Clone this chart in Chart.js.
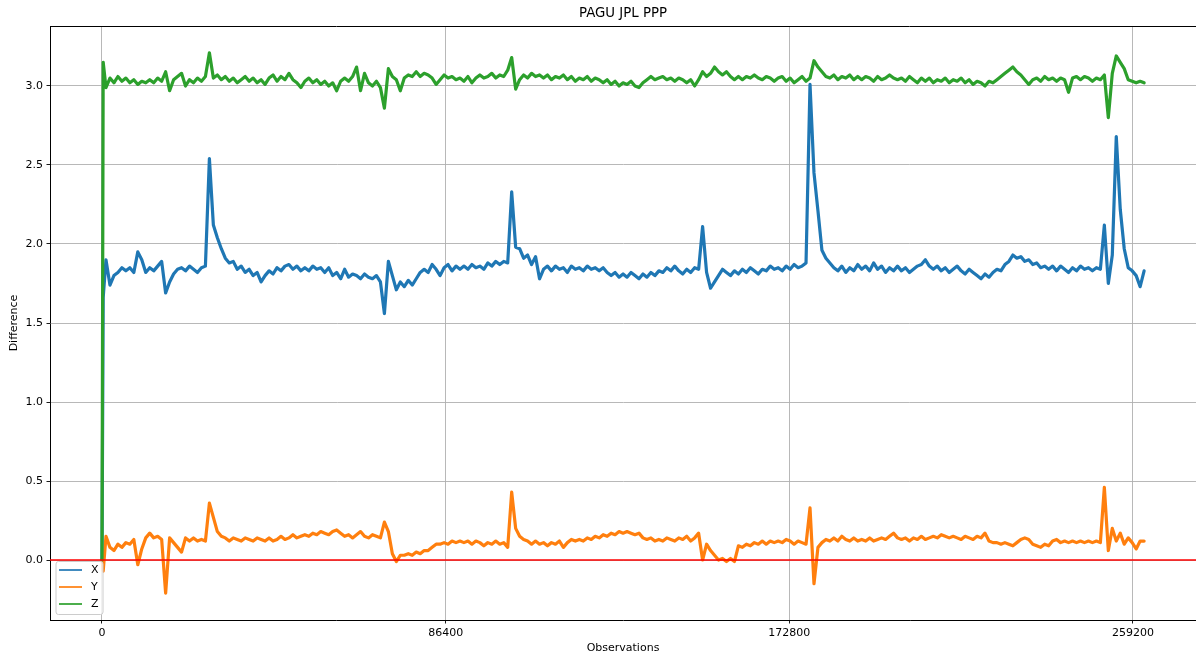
<!DOCTYPE html>
<html>
<head>
<meta charset="utf-8">
<script src="https://cdn.jsdelivr.net/npm/chart.js@4/dist/chart.umd.min.js"></script>
<style>
  html, body { margin: 0; padding: 0; background: #ffffff; }
  #wrap { width: 1196px; height: 658px; }
</style>
</head>
<body>
<div id="wrap"><canvas id="c" width="1196" height="658"></canvas></div>
<script>
// ---- data ----
const titleText = "PAGU JPL PPP";
const xTitle = "Observations";
const yTitle = "Difference";
const seriesNames = ["X", "Y", "Z"];
const xTicks = [0, 86400, 172800, 259200];
const yTicks = [0.0, 0.5, 1.0, 1.5, 2.0, 2.5, 3.0];

// sampling grid of observations (first two samples at the very start, then every 1000)
const obs = [0, 300];
for (let k = 1; k <= 262; k++) obs.push(k * 1000);

const xVals = [0, 1.66,
  1.90, 1.74, 1.80, 1.82, 1.85, 1.83, 1.85, 1.82, 1.95, 1.90,
  1.82, 1.85, 1.83, 1.86, 1.89, 1.69, 1.76, 1.81, 1.84, 1.85,
  1.83, 1.86, 1.84, 1.82, 1.85, 1.86, 2.54, 2.12, 2.04, 1.97,
  1.91, 1.88, 1.89, 1.84, 1.86, 1.82, 1.84, 1.80, 1.82, 1.76,
  1.80, 1.83, 1.81, 1.85, 1.83, 1.86, 1.87, 1.84, 1.86, 1.83,
  1.85, 1.83, 1.86, 1.84, 1.85, 1.82, 1.85, 1.80, 1.82, 1.78,
  1.84, 1.79, 1.81, 1.80, 1.78, 1.81, 1.79, 1.78, 1.80, 1.76,
  1.56, 1.89, 1.80, 1.71, 1.76, 1.73, 1.77, 1.74, 1.78, 1.82,
  1.84, 1.82, 1.87, 1.84, 1.80, 1.85, 1.87, 1.83, 1.86, 1.84,
  1.86, 1.84, 1.87, 1.85, 1.86, 1.84, 1.88, 1.86, 1.89, 1.87,
  1.89, 1.88, 2.33, 1.98, 1.97, 1.91, 1.93, 1.87, 1.92, 1.78,
  1.84, 1.86, 1.83, 1.86, 1.84, 1.85, 1.82, 1.86, 1.84, 1.85,
  1.83, 1.86, 1.84, 1.85, 1.83, 1.85, 1.82, 1.80, 1.82, 1.79,
  1.81, 1.79, 1.82, 1.80, 1.78, 1.81, 1.79, 1.82, 1.80, 1.83,
  1.82, 1.85, 1.83, 1.86, 1.83, 1.81, 1.84, 1.82, 1.85, 1.84,
  2.11, 1.82, 1.72, 1.76, 1.80, 1.84, 1.82, 1.80, 1.83, 1.81,
  1.84, 1.82, 1.85, 1.83, 1.81, 1.84, 1.83, 1.86, 1.84, 1.85,
  1.83, 1.86, 1.84, 1.87, 1.85, 1.86, 1.88, 3.01, 2.45, 2.21,
  1.96, 1.91, 1.88, 1.85, 1.83, 1.86, 1.82, 1.85, 1.83, 1.87,
  1.84, 1.86, 1.83, 1.88, 1.84, 1.86, 1.82, 1.85, 1.83, 1.86,
  1.83, 1.85, 1.82, 1.84, 1.86, 1.87, 1.90, 1.86, 1.84, 1.86,
  1.83, 1.85, 1.82, 1.84, 1.86, 1.83, 1.81, 1.84, 1.82, 1.80,
  1.78, 1.81, 1.79, 1.82, 1.84, 1.83, 1.87, 1.89, 1.93, 1.91,
  1.92, 1.89, 1.90, 1.87, 1.88, 1.85, 1.86, 1.84, 1.86, 1.83,
  1.86, 1.84, 1.82, 1.85, 1.83, 1.86, 1.84, 1.85, 1.83, 1.85,
  1.84, 2.12, 1.75, 1.93, 2.68, 2.22, 1.97, 1.85, 1.83, 1.80,
  1.73, 1.83];

const yVals = [0, -0.07,
  0.15, 0.08, 0.06, 0.10, 0.08, 0.11, 0.10, 0.13, -0.03, 0.07,
  0.14, 0.17, 0.14, 0.15, 0.13, -0.21, 0.14, 0.11, 0.08, 0.05,
  0.14, 0.12, 0.14, 0.12, 0.13, 0.12, 0.36, 0.27, 0.18, 0.15,
  0.14, 0.12, 0.14, 0.13, 0.12, 0.14, 0.13, 0.12, 0.14, 0.13,
  0.12, 0.14, 0.12, 0.13, 0.15, 0.13, 0.14, 0.16, 0.14, 0.15,
  0.16, 0.15, 0.17, 0.16, 0.18, 0.17, 0.16, 0.18, 0.19, 0.17,
  0.15, 0.16, 0.14, 0.16, 0.18, 0.15, 0.14, 0.16, 0.15, 0.14,
  0.24, 0.18, 0.04, -0.01, 0.03, 0.03, 0.04, 0.03, 0.05, 0.04,
  0.06, 0.06, 0.08, 0.10, 0.10, 0.11, 0.10, 0.12, 0.11, 0.12,
  0.11, 0.12, 0.10, 0.12, 0.11, 0.09, 0.11, 0.10, 0.12, 0.10,
  0.11, 0.08, 0.43, 0.20, 0.15, 0.13, 0.12, 0.10, 0.12, 0.10,
  0.11, 0.09, 0.11, 0.10, 0.12, 0.08, 0.11, 0.13, 0.12, 0.13,
  0.12, 0.14, 0.13, 0.15, 0.14, 0.16, 0.15, 0.17, 0.16, 0.18,
  0.17, 0.18, 0.17, 0.16, 0.17, 0.14, 0.13, 0.14, 0.12, 0.13,
  0.12, 0.14, 0.13, 0.12, 0.14, 0.13, 0.15, 0.12, 0.14, 0.17,
  0.00, 0.10, 0.06, 0.03, 0.00, 0.01, -0.01, 0.01, -0.01, 0.09,
  0.08, 0.10, 0.09, 0.11, 0.10, 0.12, 0.10, 0.12, 0.11, 0.12,
  0.11, 0.13, 0.12, 0.10, 0.12, 0.11, 0.10, 0.33, -0.15, 0.08,
  0.11, 0.13, 0.12, 0.14, 0.12, 0.15, 0.13, 0.12, 0.14, 0.12,
  0.13, 0.12, 0.14, 0.12, 0.13, 0.14, 0.13, 0.15, 0.17, 0.14,
  0.13, 0.14, 0.12, 0.14, 0.13, 0.15, 0.13, 0.14, 0.15, 0.14,
  0.16, 0.15, 0.14, 0.15, 0.14, 0.13, 0.15, 0.14, 0.13, 0.15,
  0.14, 0.17, 0.12, 0.11, 0.11, 0.10, 0.11, 0.10, 0.09, 0.11,
  0.13, 0.14, 0.13, 0.10, 0.09, 0.08, 0.10, 0.09, 0.12, 0.13,
  0.11, 0.12, 0.11, 0.12, 0.11, 0.12, 0.11, 0.12, 0.11, 0.12,
  0.11, 0.46, 0.06, 0.20, 0.12, 0.17, 0.10, 0.14, 0.11, 0.07,
  0.12, 0.12];

const zVals = [0, 3.15,
  2.99, 3.05, 3.02, 3.06, 3.03, 3.05, 3.02, 3.04, 3.01, 3.03,
  3.02, 3.04, 3.02, 3.05, 3.03, 3.09, 2.97, 3.04, 3.06, 3.08,
  3.00, 3.04, 3.02, 3.05, 3.03, 3.06, 3.21, 3.05, 3.07, 3.04,
  3.06, 3.03, 3.05, 3.02, 3.04, 3.06, 3.03, 3.05, 3.02, 3.04,
  3.01, 3.05, 3.07, 3.03, 3.06, 3.04, 3.08, 3.04, 3.02, 2.99,
  3.03, 3.05, 3.02, 3.04, 3.01, 3.03, 3.00, 3.02, 2.97, 3.03,
  3.05, 3.03, 3.06, 3.12, 2.97, 3.08, 3.02, 3.00, 3.03, 2.99,
  2.86, 3.11, 3.06, 3.04, 2.97, 3.05, 3.07, 3.06, 3.09, 3.06,
  3.08, 3.07, 3.05, 3.01, 3.04, 3.07, 3.05, 3.06, 3.04, 3.05,
  3.03, 3.06, 3.02, 3.05, 3.07, 3.05, 3.06, 3.08, 3.05, 3.07,
  3.06, 3.10, 3.18, 2.98, 3.04, 3.07, 3.05, 3.08, 3.06, 3.07,
  3.05, 3.07, 3.04, 3.06, 3.05, 3.07, 3.04, 3.06, 3.03, 3.05,
  3.04, 3.06, 3.03, 3.05, 3.04, 3.02, 3.04, 3.01, 3.03, 3.00,
  3.02, 3.01, 3.03, 3.00, 2.99, 3.02, 3.04, 3.06, 3.04, 3.05,
  3.06, 3.04, 3.05, 3.03, 3.05, 3.04, 3.02, 3.04, 3.00, 3.04,
  3.09, 3.06, 3.08, 3.12, 3.09, 3.07, 3.09, 3.06, 3.04, 3.06,
  3.04, 3.06, 3.05, 3.07, 3.05, 3.04, 3.06, 3.05, 3.03, 3.05,
  3.06, 3.03, 3.05, 3.02, 3.04, 3.06, 3.03, 3.05, 3.16, 3.12,
  3.09, 3.06, 3.05, 3.07, 3.04, 3.06, 3.05, 3.07, 3.04, 3.06,
  3.04, 3.06, 3.05, 3.03, 3.06, 3.04, 3.05, 3.07, 3.05, 3.04,
  3.05, 3.03, 3.06, 3.04, 3.02, 3.05, 3.03, 3.05, 3.02, 3.04,
  3.03, 3.05, 3.02, 3.04, 3.03, 3.05, 3.02, 3.04, 3.01, 3.03,
  3.02, 3.00, 3.03, 3.02, 3.04, 3.06, 3.08, 3.10, 3.12, 3.09,
  3.07, 3.04, 3.01, 3.04, 3.05, 3.03, 3.06, 3.04, 3.05, 3.03,
  3.05, 3.04, 2.96, 3.05, 3.06, 3.04, 3.06, 3.05, 3.03, 3.05,
  3.04, 3.07, 2.80, 3.08, 3.19, 3.15, 3.11, 3.04, 3.03, 3.02,
  3.03, 3.02];

const colors = ["#1f77b4", "#ff7f0e", "#2ca02c"];
const zeroLineColor = "#ff0000";

// ---- chart ----
const toPoints = (vals) => obs.map((o, i) => ({ x: o, y: vals[i] }));
const FONT = "DejaVu Sans";
Chart.defaults.font.family = FONT;

const deco = {
  id: "deco",
  afterDatasetsDraw(chart) {
    const { ctx, chartArea: a, scales } = chart;
    const y0 = scales.y.getPixelForValue(0);
    ctx.save();
    // red zero line
    ctx.strokeStyle = zeroLineColor;
    ctx.lineWidth = 1.7;
    ctx.beginPath();
    ctx.moveTo(a.left, y0);
    ctx.lineTo(a.right, y0);
    ctx.stroke();
    // top spine
    ctx.strokeStyle = "#000";
    ctx.lineWidth = 1;
    ctx.beginPath();
    ctx.moveTo(a.left, a.top + 0.5);
    ctx.lineTo(a.right, a.top + 0.5);
    ctx.stroke();
    // legend (lower left, inside axes)
    const bx = a.left + 6, bw = 47, bh = 53, by = a.bottom - 5.5 - bh, r = 2.5;
    ctx.fillStyle = "rgba(255,255,255,0.8)";
    ctx.strokeStyle = "#cccccc";
    ctx.lineWidth = 1;
    ctx.beginPath();
    ctx.moveTo(bx + r, by);
    ctx.lineTo(bx + bw - r, by);
    ctx.arcTo(bx + bw, by, bx + bw, by + r, r);
    ctx.lineTo(bx + bw, by + bh - r);
    ctx.arcTo(bx + bw, by + bh, bx + bw - r, by + bh, r);
    ctx.lineTo(bx + r, by + bh);
    ctx.arcTo(bx, by + bh, bx, by + bh - r, r);
    ctx.lineTo(bx, by + r);
    ctx.arcTo(bx, by, bx + r, by, r);
    ctx.closePath();
    ctx.fill();
    ctx.stroke();
    ctx.font = "11px '" + FONT + "'";
    ctx.textBaseline = "middle";
    ctx.textAlign = "left";
    seriesNames.forEach((name, i) => {
      const ry = by + 8.5 + i * 17;
      ctx.strokeStyle = colors[i];
      ctx.lineWidth = 1.7;
      ctx.beginPath();
      ctx.moveTo(bx + 3, ry);
      ctx.lineTo(bx + 26, ry);
      ctx.stroke();
      ctx.fillStyle = "#000";
      ctx.fillText(name, bx + 35, ry + 0.5);
    });
    ctx.restore();
  },
  afterDraw(chart) {
    const { ctx, chartArea: a } = chart;
    ctx.save();
    ctx.fillStyle = "#000";
    ctx.textAlign = "center";
    ctx.textBaseline = "middle";
    ctx.font = "13.3px '" + FONT + "'";
    ctx.fillText(titleText, (a.left + a.right) / 2, 14);
    ctx.font = "11px '" + FONT + "'";
    ctx.fillText(xTitle, (a.left + a.right) / 2, 648);
    ctx.translate(14, (a.top + a.bottom) / 2);
    ctx.rotate(-Math.PI / 2);
    ctx.fillText(yTitle, 0, 0);
    ctx.restore();
  }
};

new Chart(document.getElementById("c"), {
  type: "line",
  data: {
    datasets: [
      { label: seriesNames[0], data: toPoints(xVals), borderColor: colors[0], order: 3 },
      { label: seriesNames[1], data: toPoints(yVals), borderColor: colors[1], order: 2 },
      { label: seriesNames[2], data: toPoints(zVals), borderColor: colors[2], order: 1 }
    ]
  },
  options: {
    responsive: false,
    devicePixelRatio: 1,
    animation: false,
    events: [],
    layout: { padding: { top: 26, right: 0, bottom: 0, left: 0 } },
    elements: {
      point: { radius: 0 },
      line: { borderWidth: 3.2, tension: 0, borderJoinStyle: "round", borderCapStyle: "round" }
    },
    plugins: { legend: { display: false }, tooltip: { enabled: false }, title: { display: false } },
    scales: {
      x: {
        type: "linear",
        min: -13073,
        max: 275043,
        afterBuildTicks: (s) => { s.ticks = xTicks.map(v => ({ value: v })); },
        afterFit: (s) => { s.height = 38; },
        ticks: { autoSkip: false, maxRotation: 0, padding: 3.5, color: "#000",
                 font: { size: 11, family: FONT }, callback: (v) => String(v) },
        grid: { color: "#b0b0b0", lineWidth: 0.9, tickColor: "#000", tickLength: 3.5, drawTicks: true },
        border: { color: "#000", width: 1 }
      },
      y: {
        type: "linear",
        min: -0.3797,
        max: 3.3797,
        afterBuildTicks: (s) => { s.ticks = yTicks.map(v => ({ value: v })); },
        afterFit: (s) => { s.width = 50; },
        ticks: { autoSkip: false, padding: 3.5, color: "#000",
                 font: { size: 11, family: FONT }, callback: (v) => Number(v).toFixed(1) },
        grid: { color: "#b0b0b0", lineWidth: 0.9, tickColor: "#000", tickLength: 3.5, drawTicks: true },
        border: { color: "#000", width: 1 }
      }
    }
  },
  plugins: [deco]
});
</script>
</body>
</html>
